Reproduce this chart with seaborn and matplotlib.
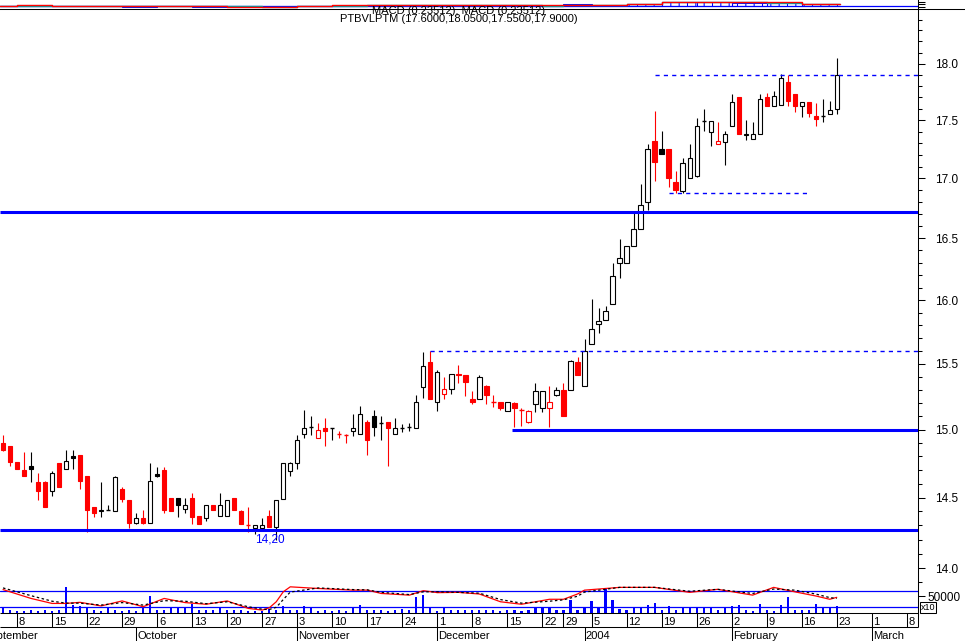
import numpy as np
import pandas as pd
import matplotlib
matplotlib.use('Agg')
import matplotlib.pyplot as plt
from matplotlib.lines import Line2D
from matplotlib.ticker import FixedLocator, FixedFormatter, NullFormatter
import seaborn as sns

sns.set_style('white')
plt.rcParams['font.family'] = ['Liberation Sans', 'DejaVu Sans']
plt.rcParams['axes.edgecolor'] = 'black'
plt.rcParams['axes.linewidth'] = 0.75
plt.rcParams['xtick.color'] = 'black'
plt.rcParams['ytick.color'] = 'black'
plt.rcParams['text.color'] = 'black'
plt.rcParams['hatch.color'] = 'blue'
plt.rcParams['hatch.linewidth'] = 0.75

ticker_name = 'PTBVLPTM'
macd_text = 'MACD (0.23512), MACD (0.23512)'
first_day = '2003-09-04'
holidays = ['2003-12-25', '2003-12-26', '2004-01-01']
month_labels = ['September', 'October', 'November', 'December', '2004', 'February', 'March']
close_before = 14.95

opens = [14.90, 14.88, 14.76, 14.70, 14.73, 14.61, 14.61, 14.55, 14.75, 14.71,
         14.80, 14.81, 14.66, 14.43, 14.40, 14.41, 14.40, 14.56, 14.48, 14.32,
         14.35, 14.32, 14.67, 14.70, 14.50, 14.50, 14.42, 14.50, 14.37, 14.35,
         14.45, 14.37, 14.37, 14.50, 14.40, 14.30, 14.28, 14.28, 14.37, 14.29,
         14.49, 14.69, 14.75, 14.97, 15.02, 14.94, 15.01, 15.01, 14.97, 14.96,
         14.99, 14.97, 15.06, 15.10, 15.05, 15.06, 14.97, 15.01, 15.02, 15.01,
         15.32, 15.51, 15.21, 15.27, 15.31, 15.42, 15.41, 15.23, 15.23, 15.33,
         15.21, 15.21, 15.14, 15.20, 15.15, 15.06, 15.19, 15.16, 15.16, 15.26,
         15.30, 15.30, 15.51, 15.33, 15.65, 15.81, 15.84, 15.97, 16.30, 16.30,
         16.44, 16.58, 16.80, 17.32, 17.25, 17.25, 16.97, 16.89, 17.00, 17.02,
         17.49, 17.40, 17.29, 17.31, 17.45, 17.70, 17.37, 17.34, 17.38, 17.70,
         17.62, 17.63, 17.84, 17.73, 17.62, 17.66, 17.54, 17.54, 17.55, 17.60]
highs = [14.96, 14.88, 14.76, 14.83, 14.83, 14.68, 14.62, 14.69, 14.75, 14.85,
         14.85, 14.81, 14.66, 14.43, 14.61, 14.45, 14.66, 14.58, 14.48, 14.39,
         14.41, 14.75, 14.72, 14.72, 14.50, 14.50, 14.50, 14.53, 14.37, 14.45,
         14.45, 14.53, 14.48, 14.50, 14.41, 14.43, 14.30, 14.35, 14.41, 14.48,
         14.75, 14.76, 14.96, 15.15, 15.10, 15.05, 15.09, 15.01, 14.99, 14.97,
         15.12, 15.18, 15.07, 15.15, 15.10, 15.06, 15.09, 15.04, 15.05, 15.26,
         15.59, 15.60, 15.45, 15.40, 15.42, 15.49, 15.41, 15.29, 15.41, 15.34,
         15.26, 15.21, 15.21, 15.21, 15.16, 15.15, 15.35, 15.29, 15.33, 15.32,
         15.35, 15.53, 15.55, 15.69, 16.01, 15.94, 15.95, 16.30, 16.49, 16.44,
         16.71, 16.95, 17.29, 17.58, 17.41, 17.25, 17.06, 17.17, 17.29, 17.52,
         17.60, 17.49, 17.48, 17.41, 17.73, 17.70, 17.50, 17.48, 17.73, 17.74,
         17.76, 17.91, 17.90, 17.73, 17.66, 17.66, 17.65, 17.69, 17.67, 18.05]
lows = [14.84, 14.73, 14.71, 14.66, 14.61, 14.48, 14.43, 14.51, 14.58, 14.71,
        14.71, 14.56, 14.25, 14.36, 14.36, 14.41, 14.40, 14.47, 14.28, 14.31,
        14.31, 14.32, 14.65, 14.39, 14.40, 14.36, 14.39, 14.31, 14.31, 14.33,
        14.41, 14.37, 14.37, 14.41, 14.31, 14.25, 14.24, 14.28, 14.29, 14.20,
        14.49, 14.66, 14.71, 14.94, 14.96, 14.94, 14.88, 14.92, 14.94, 14.90,
        14.95, 14.97, 14.81, 14.95, 14.92, 14.73, 14.97, 14.98, 14.99, 15.01,
        15.24, 15.23, 15.14, 15.23, 15.27, 15.35, 15.25, 15.19, 15.23, 15.19,
        15.17, 15.15, 15.14, 15.02, 15.03, 15.05, 15.13, 15.13, 15.02, 15.25,
        15.10, 15.30, 15.41, 15.33, 15.65, 15.74, 15.84, 15.97, 16.18, 16.30,
        16.44, 16.58, 16.73, 16.98, 17.21, 16.93, 16.88, 16.88, 17.00, 17.01,
        17.41, 17.28, 17.29, 17.11, 17.45, 17.38, 17.33, 17.34, 17.38, 17.62,
        17.62, 17.63, 17.62, 17.57, 17.53, 17.53, 17.45, 17.48, 17.55, 17.55]
closes = [14.85, 14.76, 14.71, 14.66, 14.71, 14.55, 14.43, 14.68, 14.58, 14.77,
          14.79, 14.62, 14.41, 14.39, 14.41, 14.41, 14.65, 14.49, 14.32, 14.35,
          14.32, 14.62, 14.66, 14.41, 14.40, 14.45, 14.45, 14.36, 14.31, 14.45,
          14.41, 14.45, 14.48, 14.41, 14.31, 14.30, 14.30, 14.30, 14.29, 14.48,
          14.75, 14.75, 14.92, 15.01, 15.02, 15.00, 14.99, 15.01, 14.97, 14.96,
          15.01, 15.12, 14.92, 15.02, 15.05, 15.01, 15.01, 15.01, 15.02, 15.21,
          15.48, 15.23, 15.44, 15.31, 15.42, 15.41, 15.36, 15.21, 15.40, 15.26,
          15.21, 15.16, 15.21, 15.16, 15.15, 15.14, 15.29, 15.29, 15.21, 15.30,
          15.10, 15.52, 15.41, 15.60, 15.77, 15.83, 15.91, 16.19, 16.34, 16.44,
          16.58, 16.78, 17.25, 17.14, 17.21, 17.00, 16.90, 17.13, 17.17, 17.45,
          17.49, 17.49, 17.32, 17.38, 17.66, 17.38, 17.38, 17.38, 17.69, 17.62,
          17.71, 17.87, 17.67, 17.62, 17.66, 17.56, 17.51, 17.54, 17.59, 17.90]
volumes = [16000, 7000, 5000, 5000, 7000, 5000, 7000, 5000, 7000, 78000,
           23000, 21000, 16000, 7000, 5000, 18000, 7000, 5000, 7000, 5000,
           16000, 51000, 7000, 9000, 16000, 16000, 16000, 26000, 7000, 7000,
           7000, 16000, 7000, 7000, 7000, 5000, 5000, 5000, 12000, 7000,
           20000, 9000, 7000, 20000, 16000, 5000, 7000, 5000, 7000, 5000,
           16000, 23000, 9000, 7000, 7000, 5000, 7000, 12000, 9000, 49000,
           54000, 16000, 5000, 16000, 7000, 9000, 7000, 9000, 7000, 7000,
           7000, 5000, 7000, 9000, 5000, 7000, 16000, 16000, 16000, 7000,
           9000, 40000, 7000, 16000, 35000, 16000, 75000, 40000, 12000, 7000,
           16000, 16000, 23000, 28000, 9000, 20000, 9000, 16000, 16000, 16000,
           16000, 16000, 7000, 16000, 20000, 23000, 9000, 5000, 26000, 9000,
           5000, 23000, 49000, 7000, 7000, 7000, 26000, 16000, 16000, 20000]

# oscillator in the volume pane, read at these candles
osc_idx = [0, 4, 7, 9, 11, 14, 17, 20, 23, 26, 29, 32, 35, 37, 38, 39, 40, 41, 45, 50,
           52, 54, 58, 60, 62, 65, 68, 71, 74, 78, 80, 82, 83, 88, 93, 98, 102, 107, 110, 113,
           116, 118, 119]
osc_fast = [84, 52, 34, 34, 38, 25, 43, 22, 52, 37, 31, 43, 16, 10, 18, 40, 76, 94, 88, 82,
            82, 70, 64, 80, 73, 74, 68, 40, 31, 49, 49, 68, 82, 92, 92, 74, 85, 64, 92, 76,
            61, 49, 56]
osc_slow = [90, 62, 42, 35, 35, 28, 37, 28, 44, 42, 33, 40, 22, 13, 12, 20, 48, 75, 90, 84,
            83, 74, 66, 76, 76, 74, 71, 48, 35, 42, 47, 60, 75, 92, 92, 78, 85, 70, 86, 82,
            68, 55, 52]

# macd strip at the top, one value per week
macd_line = [0.5, 0.7, 0.5, -0.3, -0.3, -0.4, -0.4, -0.5, -0.5, 0.3, 0.7, 0.7, 1.5,
             1.5, 1.0, 0.7, 0.7, 0.8, 0.7, 2.5, 4.3, 4.3, 3.7, 3.7, 2.2, 2.2]
macd_signal = [0.3, 0.5, 0.3, -0.1, -0.2, -0.3, -0.4, -0.4, -0.5, 0.0, 0.5, 0.6, 1.2,
               1.4, 1.1, 0.6, 0.5, 0.6, 0.6, 2.0, 4.0, 4.1, 3.9, 3.4, 2.4, 2.0]
macd_hist = [0, 1.5, 0, 0, -0.6, -0.2, -0.7, -0.8, -0.3, 0, 0, 0, 0,
             0, 0, 0, 0, 1.8, 0, 2.0, 3.6, 3.6, 3.2, 3.3, 2.0, 0]

# trend lines
solid_levels = [16.72, 14.27, 15.00]
solid_start = [None, None, 72.6]
dotted_levels = [17.90, 15.60, 16.88]
dotted_start = [93, 61, 95]
dotted_end = [None, None, 115]

# trading calendar
days = pd.bdate_range('2003-09-01', '2004-03-12')
days = days[~days.isin(pd.to_datetime(holidays))]
pos = np.arange(len(days)) - days.get_loc(pd.Timestamp(first_day))
is_mon = days.weekday == 0
mondays = pos[is_mon]
monday_days = days[is_mon].day
mstart = pos[np.r_[True, days.month[1:] != days.month[:-1]]]

n = len(closes)
x = np.arange(n)
xlim = (-0.43, 130.6)

W, H = 965, 641
fig = plt.figure(figsize=(W / 100, H / 100), dpi=100)


def rect(top, bottom, right=918):
    return [0, 1 - bottom / H, right / W, (bottom - top) / H]


ax_strip = fig.add_axes(rect(0, 9))
ax = fig.add_axes(rect(9, 585))
ax_vol = fig.add_axes(rect(585, 612.5))
ax_date = fig.add_axes(rect(612.5, 641))

# ---- candles
prev = np.r_[close_before, closes[:-1]]
w = 0.6
for i in range(n):
    o, h, l, c = opens[i], highs[i], lows[i], closes[i]
    col = 'red' if c < prev[i] else 'black'
    ax.vlines(i, l, h, color=col, lw=0.8, zorder=2)
    if o == c:
        ax.hlines(c, i - w / 2, i + w / 2, color=col, lw=1.0, zorder=3)
    else:
        face = col if c < o else 'white'
        ax.bar(i, abs(c - o), bottom=min(o, c), width=w, facecolor=face,
               edgecolor=col, lw=0.8, zorder=3)

for lev, st in zip(solid_levels, solid_start):
    ax.hlines(lev, xlim[0] if st is None else st, xlim[1], color='#0000ff', lw=2.2, zorder=4)
for lev, st, en in zip(dotted_levels, dotted_start, dotted_end):
    ax.hlines(lev, st, xlim[1] if en is None else en, color='#0000ff', lw=1.0,
              linestyles=(0, (3, 3)), zorder=4)

low_i = int(np.argmin(lows))
ax.annotate(f'{lows[low_i]:.2f}'.replace('.', ','), xy=(low_i, lows[low_i]),
            xytext=(-4.7, 4), textcoords='offset points', ha='center', va='top',
            color='#0000ff', fontsize=8.5)

ax.set_yscale('log')
ax.set_ylim(13.882, 18.497)
ax.set_xlim(*xlim)
major = np.arange(14.0, 18.01, 0.5)
minor = np.arange(13.9, 18.45, 0.1)
ax.yaxis.set_major_locator(FixedLocator(major))
ax.yaxis.set_major_formatter(FixedFormatter([f'{v:.1f}' for v in major]))
ax.yaxis.set_minor_locator(FixedLocator(minor))
ax.yaxis.set_minor_formatter(NullFormatter())
ax.yaxis.tick_right()
ax.tick_params(axis='y', which='major', right=True, left=False, length=5, width=0.75,
               pad=7, labelsize=8.5, direction='out')
ax.tick_params(axis='y', which='minor', right=True, left=False, length=3, width=0.75,
               direction='out')
ax.set_xticks([])
ax.spines['left'].set_visible(False)
ax.spines['bottom'].set_visible(False)

# ---- volume + oscillator
ax_osc = ax_vol.twinx()
sns.barplot(x=x, y=volumes, native_scale=True, width=0.3, color='#0000ff', saturation=1,
            errorbar=None, linewidth=0, ax=ax_vol)
ax_vol.set_xlim(*xlim)
ax_vol.set_ylim(0, 84900)
ax_vol.yaxis.tick_right()
ax_vol.set_yticks([50000])
ax_vol.set_yticklabels(['50000'])
ax_vol.tick_params(axis='y', right=True, left=False, labelright=True, labelleft=False,
                   length=5, width=0.75, pad=1.5, labelsize=8.5, direction='out')
ax_vol.set_xticks([])
ax_vol.set_xlabel('')
ax_vol.set_ylabel('')
for s in ['left', 'top', 'bottom']:
    ax_vol.spines[s].set_visible(False)

ax_osc.axhline(80, color='#0000ff', lw=0.9)
ax_osc.axhline(20, color='#0000ff', lw=0.9)
sns.lineplot(x=osc_idx, y=osc_fast, color='red', lw=0.9, ax=ax_osc)
sns.lineplot(x=osc_idx, y=osc_slow, color='black', lw=0.9, linestyle=(0, (2, 2)), ax=ax_osc)
ax_osc.set_ylim(1.2, 100.6)
ax_osc.set_xlim(*xlim)
ax_osc.set_yticks([])
ax_osc.set_ylabel('')
for s in ax_osc.spines.values():
    s.set_visible(False)

fig.text(921 / W, 1 - 607.5 / H, 'x10', fontsize=6.5, ha='left', va='center',
         bbox=dict(boxstyle='square,pad=0.1', fc='white', ec='black', lw=0.75))

# ---- date band
ax_date.set_xlim(*xlim)
ax_date.set_ylim(0, 1)
ax_date.axis('off')
mid = 0.491
ax_date.hlines([1, mid], xlim[0], xlim[1], color='black', lw=0.75, clip_on=False)
ax_date.vlines(mondays, mid, 1, color='black', lw=0.75)
ax_date.vlines(mstart, 0, mid, color='black', lw=0.75)
ax_date.vlines(xlim[1], mid, 1, color='black', lw=0.75, clip_on=False)
for m, d in zip(mondays, monday_days):
    ax_date.text(m + 0.25, 0.561, str(d), fontsize=8, va='baseline', ha='left', clip_on=True)
for m, lab in zip(mstart, month_labels):
    ax_date.text(m + 0.15, 0.07, lab, fontsize=8, va='baseline', ha='left', clip_on=True)

# ---- macd strip
starts = mondays[mondays <= n - 1]
edges = np.r_[starts, n - 0.5]
ax_strip.bar(starts, macd_hist, width=np.diff(edges), align='edge', facecolor='none',
             edgecolor='#0000ff', hatch='||', lw=0.75)
ax_strip.axhline(0, color='#0000ff', lw=0.9)
sns.lineplot(x=edges, y=np.r_[macd_signal, macd_signal[-1]], drawstyle='steps-post',
             color='#00a0a0', lw=1.0, ax=ax_strip)
sns.lineplot(x=edges, y=np.r_[macd_line, macd_line[-1]], drawstyle='steps-post',
             color='red', lw=1.0, ax=ax_strip)
ax_strip.set_xlim(*xlim)
ax_strip.set_ylim(-3, 6)
ax_strip.yaxis.tick_right()
ax_strip.set_yticks([-0.5, 2, 4.5])
ax_strip.set_yticklabels([])
ax_strip.tick_params(axis='y', right=True, left=False, length=5, width=0.75, direction='out')
ax_strip.set_xticks([])
for s in ['left', 'top', 'bottom']:
    ax_strip.spines[s].set_visible(False)

fig.add_artist(Line2D([918 / W, 1], [1 - 9 / H, 1 - 9 / H], color='black', lw=0.75,
                      transform=fig.transFigure))

fig.text(459 / W, 1 - 10.5 / H, macd_text, ha='center', va='center', fontsize=8)
fig.text(458.5 / W, 1 - 19.5 / H,
         f'{ticker_name} ({opens[-1]:.4f},{highs[-1]:.4f},{lows[-1]:.4f},{closes[-1]:.4f})',
         ha='center', va='center', fontsize=8)

fig.savefig('out.png', dpi=100)
